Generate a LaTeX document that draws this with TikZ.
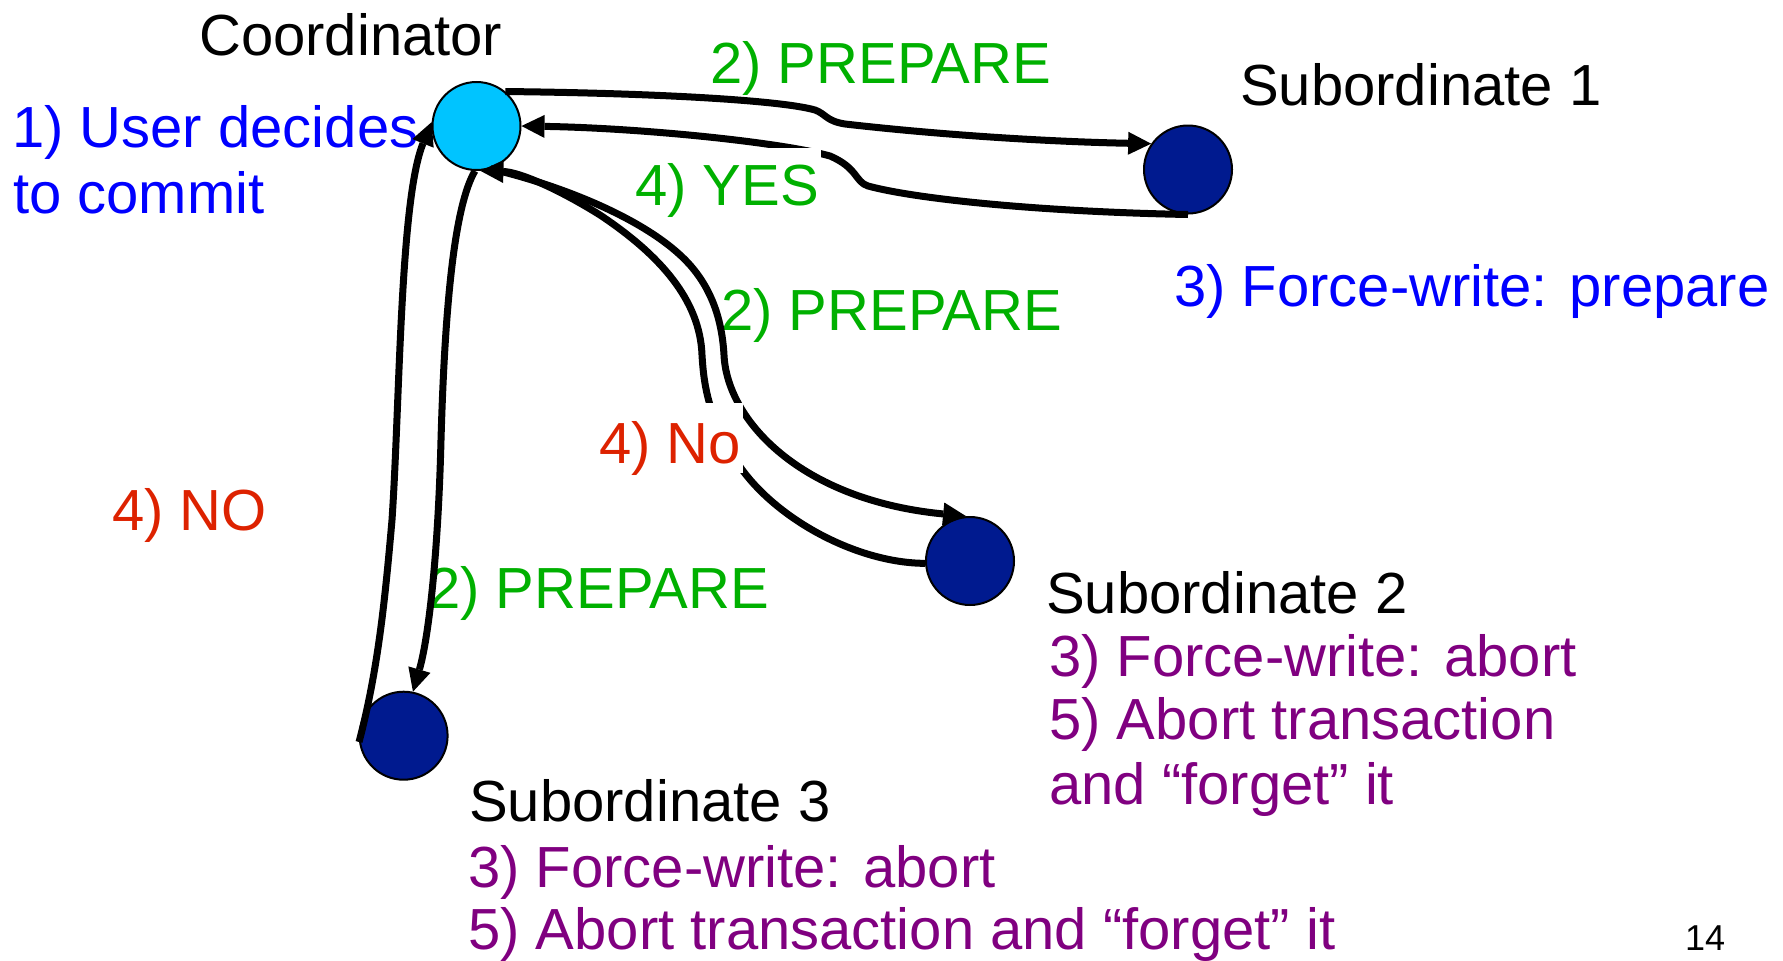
\documentclass[tikz,border=0pt]{standalone}
\usepackage{fontspec}
\setmainfont{Liberation Sans}
\usetikzlibrary{arrows.meta}
\definecolor{coordfill}{RGB}{0,196,255}
\definecolor{subfill}{RGB}{0,26,143}
\definecolor{txtblue}{RGB}{0,0,255}
\definecolor{txtgreen}{RGB}{0,176,0}
\definecolor{txtred}{RGB}{221,34,0}
\definecolor{txtpurple}{RGB}{128,0,128}
\tikzset{
  site/.style={circle, draw=black, line width=2pt, minimum size=88pt, inner sep=0pt},
  lbl/.style={anchor=base west, inner sep=0pt, font=\fontsize{58}{70}\selectfont},
  msg/.style={line width=7pt, -{Triangle[length=23pt,width=23pt,line width=0pt]}},
  cutout/.style={fill=white, inner xsep=2pt, inner ysep=0pt},
}
\begin{document}
\begin{tikzpicture}[x=1pt,y=-1pt]
\useasboundingbox (0,0) rectangle (1783,961);

% captions and step annotations
\node[lbl] (tcoord) at (199,55) {Coordinator};
\node[lbl, text=txtblue] (tuser) at (12,147) {1) User decides};
\node[lbl, text=txtblue] (tcommit) at (13,213) {to commit};
\node[lbl, text=txtgreen] (tprep1) at (710,83) {2) PREPARE};
\node[lbl] (ts1) at (1240,105) {Subordinate 1};
\node[lbl, text=txtblue] (tforce1) at (1174,306) {3) Force-write: prepare};
\node[lbl, text=txtgreen] (tprep2) at (721,330) {2) PREPARE};
\node[lbl, text=txtred] (tNObig) at (112,530) {4) NO};
\node[lbl, text=txtgreen] (tprep3) at (428,608) {2) PREPARE};
\node[lbl] (ts2) at (1046,613) {Subordinate 2};
\node[lbl, text=txtpurple] (tf2) at (1049,676) {3) Force-write: abort};
\node[lbl, text=txtpurple] (ta2) at (1049,739) {5) Abort transaction};
\node[lbl, text=txtpurple] (tg2) at (1049,804) {and “forget” it};
\node[lbl] (ts3) at (469,821) {Subordinate 3};
\node[lbl, text=txtpurple] (tf3) at (468,887) {3) Force-write: abort};
\node[lbl, text=txtpurple] (ta3) at (468,949) {5) Abort transaction and “forget” it};
\node[anchor=base west, inner sep=0pt, font=\fontsize{36}{40}\selectfont] (pg) at (1685,950) {14};

% sites
\node[site, fill=coordfill] (co) at (476.5,126) {};
\node[site, fill=subfill] (s1) at (1188,169.5) {};
\node[site, fill=subfill] (s2) at (970,561) {};
\node[site, fill=subfill] (s3) at (403.6,735.7) {};

% coordinator <-> subordinate 1
\draw[msg] (co.50) .. controls (650,93) and (780,100) .. (815,110)
  .. controls (826,114) and (826,121) .. (845,124)
  .. controls (950,136) and (1060,142) .. (s1.145);
\draw[msg] (s1.south) .. controls (1050,212) and (920,200) .. (868,186)
  .. controls (855,182) and (858,168) .. (830,156)
  .. controls (780,142) and (640,128) .. (co.east);

% coordinator <-> subordinate 2
\draw[msg] (co.-72) .. controls (560,185) and (650,220) .. (690,265)
  .. controls (712,290) and (722,320) .. (724,355)
  .. controls (727,420) and (800,500) .. (s2.95);
\draw[msg] (s2.183) .. controls (850,563) and (760,510) .. (730,450)
  .. controls (710,415) and (704,390) .. (702,355)
  .. controls (700,300) and (660,255) .. (600,215)
  .. controls (560,190) and (520,172) .. (co.-85);

% coordinator <-> subordinate 3
\draw[msg] (co.-92) .. controls (455,205) and (445,300) .. (441,440)
  .. controls (438,560) and (428,640) .. (s3.78);
\draw[msg] (s3.188) .. controls (378,670) and (385,600) .. (392,520)
  .. controls (400,400) and (400,200) .. (co.175);

% vote labels on white boxes over the connectors
\node[lbl, cutout, text=txtgreen, text height=57pt, text depth=12pt] (tyes) at (633,205) {4) YES};
\node[lbl, cutout, text=txtred, text height=60pt, text depth=10pt] (tno) at (597,463) {4) No};
\end{tikzpicture}
\end{document}
